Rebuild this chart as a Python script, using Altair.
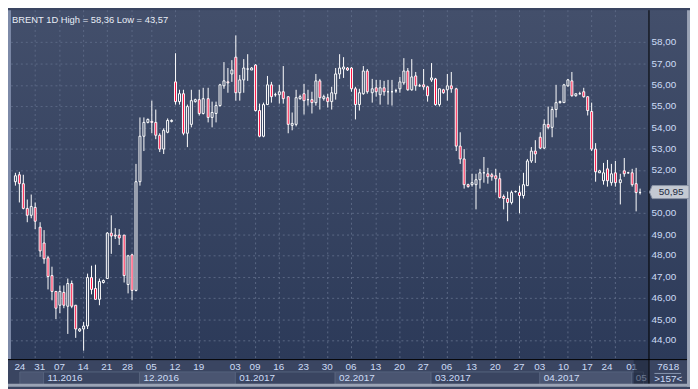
import altair as alt
import pandas as pd

# ---------------- data ----------------
opens = [51.50, 51.80, 51.40, 50.23, 49.92, 50.30, 49.35, 48.59, 47.91, 47.08,
         46.32, 45.71, 46.27, 45.64, 46.70, 45.68, 44.47, 44.58, 44.70, 47.00,
         46.47, 45.99, 46.77, 46.95, 49.05, 48.97, 48.97, 48.97, 46.67, 48.06,
         46.40, 51.47, 53.62, 54.24, 54.30, 54.27, 53.67, 52.99, 53.82, 54.32,
         56.14, 55.23, 55.59, 53.74, 54.17, 55.23, 55.33, 54.68, 55.36, 54.50,
         54.68, 55.03, 55.99, 56.17, 56.55, 57.30, 55.67, 56.24, 56.77, 56.74,
         56.95, 54.80, 53.62, 55.10, 56.01, 55.56, 55.56, 55.68, 55.45, 54.12,
         54.17, 55.38, 55.59, 55.33, 55.33, 55.18, 56.21, 55.38, 55.41, 55.23,
         55.59, 56.55, 56.77, 56.80, 56.80, 55.83, 55.10, 55.60, 56.65, 55.64,
         55.90, 55.56, 55.90, 55.68, 55.70, 55.73, 55.86, 56.12, 56.67, 55.79,
         56.44, 55.99, 56.01, 55.94, 56.24, 56.32, 55.08, 55.77, 55.77, 55.99,
         55.83, 53.17, 52.53, 51.36, 51.36, 51.36, 51.58, 51.88, 51.85, 51.82,
         51.74, 51.62, 50.79, 50.71, 50.49, 51.00, 50.99, 50.82, 51.32, 52.44,
         52.91, 53.55, 53.06, 54.17, 54.01, 54.85, 55.18, 55.21, 55.99, 56.21,
         55.51, 55.60, 55.68, 55.45, 54.77, 53.03, 51.92, 51.55, 52.08, 51.43,
         51.90, 51.42, 51.99, 51.88, 51.90, 51.40, 50.97]
highs = [51.92, 51.95, 51.82, 50.64, 50.86, 50.53, 49.58, 49.23, 47.99, 47.49,
         46.35, 46.62, 46.62, 46.92, 46.85, 45.71, 44.62, 44.88, 47.15, 47.53,
         47.60, 46.95, 46.88, 49.12, 49.91, 49.30, 49.27, 49.00, 48.06, 48.08,
         52.30, 54.50, 54.50, 54.45, 55.30, 54.88, 53.74, 53.97, 54.45, 54.42,
         57.50, 55.79, 55.79, 55.10, 55.79, 55.38, 55.79, 55.90, 55.90, 55.23,
         55.23, 56.09, 57.08, 56.80, 57.18, 58.36, 56.50, 57.23, 57.45, 56.85,
         57.00, 55.14, 55.18, 56.42, 56.17, 55.65, 56.01, 56.92, 55.49, 54.73,
         55.79, 55.55, 56.09, 55.79, 55.71, 56.55, 56.29, 55.55, 55.59, 55.94,
         56.80, 57.45, 57.30, 56.88, 56.85, 55.94, 55.86, 56.90, 56.77, 56.29,
         56.24, 56.24, 56.20, 56.24, 56.24, 55.83, 56.40, 57.26, 56.80, 57.23,
         56.62, 56.05, 56.77, 55.96, 57.05, 56.35, 55.86, 55.82, 56.55, 56.62,
         55.90, 53.82, 52.99, 51.40, 51.85, 51.85, 52.08, 52.64, 52.15, 51.90,
         52.10, 51.90, 50.86, 51.01, 51.05, 51.05, 51.32, 51.90, 52.53, 53.09,
         53.44, 53.82, 54.42, 54.99, 54.99, 56.01, 55.26, 56.09, 56.32, 56.62,
         55.63, 55.68, 55.90, 55.49, 55.18, 53.29, 52.03, 52.38, 52.50, 52.30,
         52.45, 51.85, 52.60, 51.95, 52.10, 52.15, 51.17]
lows = [51.32, 50.49, 50.18, 49.60, 49.77, 49.27, 47.95, 47.64, 46.44, 45.94,
        45.03, 45.33, 45.56, 44.35, 45.56, 44.15, 44.42, 43.57, 44.58, 46.20,
        45.97, 45.68, 46.70, 46.92, 48.10, 48.80, 48.51, 46.77, 46.24, 45.90,
        46.32, 51.32, 52.91, 54.20, 53.74, 53.47, 52.88, 52.79, 53.74, 54.28,
        55.10, 55.10, 53.67, 53.10, 54.05, 55.20, 54.58, 54.65, 54.27, 54.01,
        54.27, 54.99, 55.86, 55.67, 56.17, 55.29, 55.29, 55.64, 56.21, 56.70,
        54.76, 53.59, 53.59, 55.08, 55.18, 55.48, 55.15, 55.14, 53.74, 53.90,
        54.08, 55.33, 54.62, 55.03, 54.70, 55.03, 54.88, 55.30, 54.95, 54.88,
        55.33, 56.32, 56.35, 56.65, 55.71, 54.42, 54.83, 55.56, 55.59, 55.18,
        55.49, 55.08, 55.53, 55.08, 55.03, 55.64, 55.67, 56.01, 55.74, 55.74,
        55.74, 55.93, 55.79, 55.23, 56.17, 55.03, 54.99, 55.62, 55.29, 55.64,
        52.91, 52.30, 51.17, 51.20, 51.24, 50.18, 51.17, 51.42, 51.40, 51.55,
        50.97, 50.68, 50.18, 49.65, 50.41, 50.95, 49.99, 50.71, 51.29, 52.38,
        52.35, 53.01, 53.03, 53.92, 53.59, 54.50, 55.15, 55.18, 55.94, 55.49,
        55.47, 55.55, 55.41, 54.58, 52.91, 51.50, 51.90, 51.35, 51.27, 51.30,
        51.27, 50.41, 51.70, 51.85, 51.24, 50.10, 50.86]
closes = [51.78, 51.40, 50.23, 49.92, 50.33, 49.65, 48.26, 47.86, 47.03, 46.32,
          45.53, 46.32, 45.71, 46.73, 45.64, 44.58, 44.58, 44.73, 47.00, 46.44,
          45.99, 46.82, 46.86, 49.09, 48.94, 48.92, 48.86, 47.08, 47.99, 46.40,
          51.47, 53.62, 54.27, 54.42, 54.25, 53.67, 52.99, 53.90, 54.35, 54.35,
          55.23, 55.59, 53.74, 55.00, 55.29, 55.33, 54.68, 55.36, 54.50, 54.73,
          55.03, 56.01, 56.20, 56.12, 56.73, 55.67, 56.27, 56.80, 56.78, 56.80,
          54.80, 53.62, 55.10, 56.01, 55.49, 55.55, 55.68, 55.38, 54.17, 54.20,
          55.41, 55.49, 55.29, 55.35, 55.18, 56.20, 55.41, 55.45, 55.23, 55.64,
          56.55, 56.80, 56.85, 56.71, 55.83, 55.10, 55.64, 56.65, 55.71, 55.86,
          55.68, 55.90, 55.68, 55.70, 55.72, 55.75, 56.14, 56.67, 55.79, 56.40,
          55.99, 56.00, 55.94, 55.53, 56.35, 55.08, 55.82, 55.67, 56.00, 55.83,
          53.17, 52.53, 51.36, 51.24, 51.44, 51.58, 51.90, 51.90, 51.70, 51.70,
          51.62, 50.76, 50.71, 50.49, 50.99, 51.02, 50.82, 51.35, 52.44, 52.91,
          52.76, 53.06, 54.17, 54.01, 54.88, 55.18, 55.23, 56.01, 56.27, 55.53,
          55.59, 55.63, 55.45, 54.80, 53.03, 51.95, 52.00, 51.90, 51.51, 51.85,
          51.42, 51.59, 51.85, 51.90, 51.36, 50.97, 50.95]

day_tick_pos = [1.3, 6, 11, 17, 23, 28, 34, 40, 46, 55, 60, 66, 72, 78, 84, 90,
                96, 102, 108, 114, 120, 126, 131, 137, 143, 148, 154]
day_tick_text = ["24", "31", "07", "14", "21", "28", "05", "12", "19", "03", "09",
                 "16", "23", "30", "06", "13", "20", "27", "06", "13", "20", "27",
                 "03", "10", "17", "24", "01"]
grid_pos = [5, 11, 17, 23, 29, 34, 40, 46, 55, 60, 66, 72, 78, 84, 90, 96, 102,
            108, 114, 120, 126, 132, 138, 144, 150]
month_start = [1.15, 7, 31, 55, 80, 104, 131, 154]
month_end = [7, 31, 55, 80, 104, 131, 154, 157.05]
month_text = ["", "11.2016", "12.2016", "01.2017", "02.2017", "03.2017", "04.2017", "05"]
grid_y = [44, 45, 46, 47, 48, 49, 50, 51, 52, 53, 54, 55, 56, 57, 58]
# 51,00 is hidden behind the last-price tag in the reference
label_y = [44, 45, 46, 47, 48, 49, 50, 52, 53, 54, 55, 56, 57, 58]
label_y_text = ["44,00", "45,00", "46,00", "47,00", "48,00", "49,00", "50,00",
                "52,00", "53,00", "54,00", "55,00", "56,00", "57,00", "58,00"]
title_text = ["BRENT 1D High = 58,36 Low = 43,57"]
corner_top = ["7618"]
corner_bottom = [">157<"]

# ---------------- layout / style ----------------
W, H = 645, 353
X_DOM = [0.19, 157.05]
Y_DOM = [43.14, 59.5]
FONT = "Liberation Sans"
TXT = "#cddcf6"

xs = alt.Scale(domain=X_DOM, nice=False, zero=False, round=True)
ys = alt.Scale(domain=Y_DOM, nice=False, zero=False, round=True)

df = pd.DataFrame({"i": list(range(len(opens))), "open": opens, "high": highs,
                   "low": lows, "close": closes})
one = pd.DataFrame({"a": [0]})

bg = alt.Chart(one).mark_rect(
    color=alt.Gradient(gradient="linear",
                       stops=[alt.GradientStop(color="#434f6b", offset=0),
                              alt.GradientStop(color="#2c3a59", offset=1)],
                       x1=0, x2=0, y1=0, y2=1)
).encode(x=alt.value(0), x2=alt.value(W + 42), y=alt.value(0), y2=alt.value(H))

left_strip = alt.Chart(one).mark_rect(color="#7d8aa8").encode(
    x=alt.value(-3), x2=alt.value(0), y=alt.value(0), y2=alt.value(H))

hgrid = alt.Chart(pd.DataFrame({"v": grid_y})).mark_rule(
    color="#5b6885", strokeWidth=1, strokeDash=[2, 3], yOffset=0.5
).encode(y=alt.Y("v:Q", scale=ys, axis=None), x=alt.value(0), x2=alt.value(W))

y_labels = alt.Chart(pd.DataFrame({"v": label_y, "t": label_y_text})).mark_text(
    align="left", baseline="middle", color=TXT, font=FONT, fontSize=10
).encode(y=alt.Y("v:Q", scale=ys, axis=None), x=alt.value(W + 3), text="t:N")

vgrid = alt.Chart(pd.DataFrame({"g": grid_pos})).mark_rule(
    color="#5b6885", strokeWidth=1, strokeDash=[2, 3], xOffset=0.5
).encode(x=alt.X("g:Q", scale=xs, axis=None))

wicks = alt.Chart(df).mark_rule(color="white", strokeWidth=1, clip=True,
                                xOffset=0.5, yOffset=0.5, y2Offset=0.5).encode(
    x=alt.X("i:Q", scale=xs, axis=None),
    y=alt.Y("low:Q", scale=ys, axis=None),
    y2="high:Q")

bodies = alt.Chart(df).mark_bar(size=2, stroke="white", strokeWidth=1, clip=True,
                                xOffset=0.5, yOffset=0.5, y2Offset=0.5).encode(
    x=alt.X("i:Q", scale=xs, axis=None),
    y=alt.Y("open:Q", scale=ys, axis=None),
    y2="close:Q",
    fill=alt.when(alt.datum.close >= alt.datum.open)
            .then(alt.value("#33405e")).otherwise(alt.value("#ff0a3c")))

title = alt.Chart(pd.DataFrame({"t": title_text})).mark_text(
    align="left", baseline="middle", color="#e8edf6", font=FONT, fontSize=9.5
).encode(x=alt.value(1), y=alt.value(10), text="t:N")

# x axis area
axis_bg = alt.Chart(one).mark_rect(color="#3a4561").encode(
    x=alt.value(-3), x2=alt.value(W + 45), y=alt.value(H), y2=alt.value(H + 28))

day_labels = alt.Chart(pd.DataFrame({"p": day_tick_pos, "t": day_tick_text})).mark_text(
    align="center", baseline="middle", color=TXT, font=FONT, fontSize=10
).encode(x=alt.X("p:Q", scale=xs, axis=None), y=alt.value(H + 8), text="t:N")

mdf = pd.DataFrame({"s": month_start, "e": month_end, "m": month_text,
                    "k": list(range(len(month_text)))})
month_boxes = alt.Chart(mdf).mark_rect(stroke="#56627c", strokeWidth=1).encode(
    x=alt.X("s:Q", scale=xs, axis=None), x2="e:Q",
    y=alt.value(H + 13), y2=alt.value(H + 26),
    fill=alt.when("datum.k % 2 == 0").then(alt.value("#4a5571")).otherwise(alt.value("#3a4561")))
month_labels = alt.Chart(mdf).mark_text(
    align="left", baseline="middle", dx=4, color=TXT, font=FONT, fontSize=10
).encode(x=alt.X("s:Q", scale=xs, axis=None), y=alt.value(H + 19.5), text="m:N")

overlay = alt.Chart(one).mark_rect(color="#1a2236", opacity=0.55).encode(
    x=alt.value(W - 15), x2=alt.value(W), y=alt.value(H), y2=alt.value(H + 26))

hline = alt.Chart(one).mark_rule(color="#000000", strokeWidth=1).encode(
    x=alt.value(-3), x2=alt.value(W + 42), y=alt.value(H + 0.5))
vline = alt.Chart(one).mark_rule(color="#000000", strokeWidth=1).encode(
    x=alt.value(W + 0.5), y=alt.value(0), y2=alt.value(H + 28))

corner1 = alt.Chart(pd.DataFrame({"t": corner_top})).mark_text(
    align="center", baseline="middle", color=TXT, font=FONT, fontSize=10
).encode(x=alt.value(W + 20), y=alt.value(H + 8), text="t:N")
corner2 = alt.Chart(pd.DataFrame({"t": corner_bottom})).mark_text(
    align="center", baseline="middle", color=TXT, font=FONT, fontSize=10
).encode(x=alt.value(W + 20), y=alt.value(H + 20.5), text="t:N")
corner_line = alt.Chart(one).mark_rule(color="#8896b0", strokeWidth=1).encode(
    x=alt.value(W + 6), x2=alt.value(W + 33), y=alt.value(H + 14.5))

border_r = alt.Chart(one).mark_rect(color="#9aa3b5").encode(
    x=alt.value(W + 39), x2=alt.value(W + 42), y=alt.value(0), y2=alt.value(H + 28))
border_b = alt.Chart(one).mark_rect(color="#9aa3b5").encode(
    x=alt.value(-3), x2=alt.value(W + 42), y=alt.value(H + 25), y2=alt.value(H + 28))

tag_path = "M -1 0 L -0.86 -0.33 L 1 -0.33 L 1 0.33 L -0.86 0.33 Z"
last_df = pd.DataFrame({"p": [closes[-1]],
                        "t": [f"{closes[-1]:.2f}".replace(".", ",")]})
tag = alt.Chart(last_df).mark_point(
    shape=tag_path, size=1600, filled=True, fill="#c4c9d2", stroke="#8a93a5",
    strokeWidth=1, opacity=1
).encode(x=alt.value(W + 21), y=alt.Y("p:Q", scale=ys, axis=None))
tag_text = alt.Chart(last_df).mark_text(
    align="center", baseline="middle", color="#1d2940", font=FONT, fontSize=10
).encode(x=alt.value(W + 23), y=alt.Y("p:Q", scale=ys, axis=None), text="t:N")

chart = alt.layer(
    bg, left_strip, hgrid, vgrid, wicks, bodies, title,
    axis_bg, month_boxes, month_labels, day_labels, overlay,
    hline, vline, y_labels, corner_line, corner1, corner2, border_r, border_b,
    tag, tag_text
).properties(
    width=W, height=H,
    autosize=alt.AutoSizeParams(type="none"),
    padding={"left": 3, "top": 0, "right": 42, "bottom": 28},
    background="#3a4561"
).configure_view(stroke=None)

chart.save("out.html", embed_options={"renderer": "svg", "actions": False})
